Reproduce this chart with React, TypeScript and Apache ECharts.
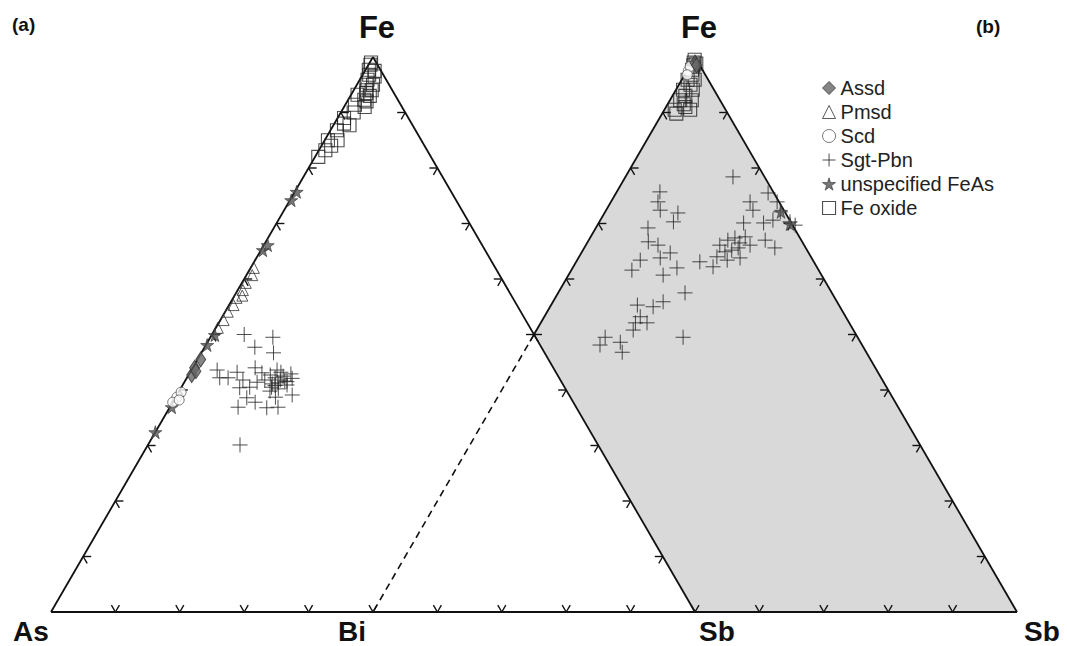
import React, { useEffect, useRef } from "react";
import * as echarts from "echarts";

// Ternary compositions, [Fe %, Sb %]; the remainder is As (diagram a) or Bi (diagram b)
const LEGEND_NAMES = ["Assd", "Pmsd", "Scd", "Sgt-Pbn", "unspecified FeAs", "Fe oxide"];

// Diagram (a): As - Fe - Sb
const A_ASSD: number[][] = [[42.7, 0.5], [44, 0.3], [45.5, 0.5], [43.4, 0.8]];
const A_PMSD: number[][] = [
  [51.2, 0.3], [52.6, 0.5], [54.1, 0.4], [55.3, 0.7], [56.6, 0.5],
  [58, 0.8], [59.3, 0.6], [60.7, 0.9], [62, 0.5], [57, 1.2],
];
const A_SCD: number[][] = [[38.7, 0.2], [37.8, 0], [39.6, 0.4], [38.2, 0.8]];
const A_SGT: number[][] = [
  [50, 5], [49.5, 9.7], [47.7, 7.8], [46.7, 11.2], [43.6, 4], [42.2, 5.1], [42.2, 6.4],
  [43.2, 7.3], [41.8, 8.9], [44, 9.7], [40.5, 10.6], [41.4, 11.3], [40.4, 9.1], [38.6, 11.1],
  [36.9, 10.6], [37.8, 12.8], [36.8, 15.1], [36.9, 16.8], [38.7, 15.5], [39.1, 17.9],
  [40.9, 16.2], [42.2, 13.7], [41.8, 14.7], [42.5, 14.8], [41.3, 14.6], [41.6, 15.5],
  [41.1, 13.8], [43.2, 14.1], [42.7, 12.7], [41.8, 12.3], [43.1, 11.2], [30.1, 14.3],
  [40.5, 14.0], [42.9, 15.8], [40.2, 15.2], [41.5, 15.9], [42.1, 16.4], [40.8, 14.4],
  [43.6, 13.3], [39.8, 14.1],
];
const A_FEAS: number[][] = [
  [32.4, 0], [36.9, 0.3], [48.1, 0.2], [49.9, 0.5], [65.2, 0.3], [66.1, 0.6], [74.2, 0.2], [75.7, 0.3],
];
const A_FEOX: number[][] = [
  [82, 0.5], [83.2, 1], [85, 0.5], [85, 2], [86.8, 1], [87.7, 2.5], [89, 1], [90, 2],
  [91.4, 1.5], [92.3, 2.5], [93.2, 1], [94, 2], [95, 1.5], [95.9, 1.2], [96.8, 1], [97.7, 0.5],
  [98.6, 0.3], [99, 0.2], [92, 3], [93, 3], [94, 2.8], [95, 2.5], [96.5, 2], [97.5, 1.5],
  [91, 3.2], [93.5, 2.2], [88, 1.5], [84, 1.5],
];

// Diagram (b): Bi - Fe - Sb
const B_ASSD: number[][] = [[99, 0.5], [98.5, 1]];
const B_PMSD: number[][] = [];
const B_SCD: number[][] = [[97.5, 0.2], [98.3, 0.1], [96.8, 0.4]];
const B_SGT: number[][] = [
  [78.4, 16.7], [75.7, 6.7], [73.9, 7.3], [72.4, 8.4], [71.9, 11.4], [70.3, 11.5], [69.2, 8.1],
  [66.7, 9.4], [66.1, 11.2], [64.7, 13.8], [63.8, 12.7], [63.4, 9.8], [61.6, 9.4], [60.7, 14.7],
  [62, 16.2], [73.9, 21.6], [72.4, 22.8], [75.5, 23.6], [73.9, 25.8], [72.1, 27.2], [70.3, 29.6],
  [69.7, 30.7], [70.1, 22.5], [70.1, 25.6], [70.6, 26.8], [66.1, 20.8], [67, 21.6], [67.4, 22.5],
  [66.5, 23.7], [67.6, 24], [66.1, 25.5], [65.2, 23.1], [64.9, 22.2], [64, 21.4], [65.6, 23.9],
  [63.1, 19.2], [62.2, 21.7], [63.4, 23.3], [63.8, 25.1], [67, 27.4], [65.6, 29.6], [57.5, 19.7],
  [55.9, 17.1], [55, 16], [55.3, 13.4], [53.2, 14.9], [52.1, 14.7], [52.1, 16.5], [50.8, 15],
  [49.5, 23.4], [49.5, 11.3], [48.1, 11.2], [48.6, 14.1], [46.8, 15.3],
];
const B_FEAS: number[][] = [[69.9, 29.8], [72.1, 27.3]];
const B_FEOX: number[][] = [
  [90.5, 1.6], [90.5, 4], [91.5, 2.5], [92.2, 1.6], [92.2, 3.4], [93, 2], [94.1, 1.1], [94.1, 2.6],
  [95, 1.8], [95.9, 0.9], [95.9, 2], [96.8, 1.2], [97.7, 0.7], [98.5, 0.5], [99, 0.3], [89.8, 2.2],
  [91, 3], [99.5, 0.2], [98.8, 0.8],
];

const H = Math.sqrt(3) / 2;
const toA = (p: number[]) => [p[1] / 100 + p[0] / 200, (p[0] / 100) * H];
const toB = (p: number[]) => [0.5 + p[1] / 100 + p[0] / 200, (p[0] / 100) * H];

const PLUS = "path://M5,0L5,10M0,5L10,5";
const STAR = "path://M50,0L61,35L98,35L68,57L79,91L50,70L21,91L32,57L2,35L39,35Z";

const STYLES: Record<string, any> = {
  Assd: { symbol: "diamond", symbolSize: [10, 15], itemStyle: { color: "#666", borderColor: "#333", borderWidth: 1 } },
  Pmsd: { symbol: "triangle", symbolSize: 11, itemStyle: { color: "rgba(255,255,255,0)", borderColor: "#333", borderWidth: 1 } },
  Scd: { symbol: "circle", symbolSize: 10, itemStyle: { color: "#fff", borderColor: "#555", borderWidth: 1 } },
  "Sgt-Pbn": { symbol: PLUS, symbolSize: 15, itemStyle: { color: "rgba(0,0,0,0)", borderColor: "#222", borderWidth: 1 } },
  "unspecified FeAs": { symbol: STAR, symbolSize: 13, itemStyle: { color: "#555", borderColor: "#333", borderWidth: 0.8 } },
  "Fe oxide": { symbol: "rect", symbolSize: 13, itemStyle: { color: "rgba(255,255,255,0)", borderColor: "#222", borderWidth: 1.1 } },
};

const SETS: [string, number[][], number[][]][] = [
  ["Fe oxide", A_FEOX, B_FEOX],
  ["Sgt-Pbn", A_SGT, B_SGT],
  ["Pmsd", A_PMSD, B_PMSD],
  ["unspecified FeAs", A_FEAS, B_FEAS],
  ["Scd", A_SCD, B_SCD],
  ["Assd", A_ASSD, B_ASSD],
];

const FONT = '"Liberation Sans", Arial, sans-serif';

function frame(params: any, api: any) {
  const c = (x: number, y: number) => api.coord([x, y]);
  const As = c(0, 0), FeA = c(0.5, H), SbA = c(1, 0), Bi = c(0.5, 0), FeB = c(1, H), SbB = c(1.5, 0), X = c(0.75, H / 2);
  const ch: any[] = [];
  ch.push({ type: "polygon", shape: { points: [FeB, SbB, SbA, X] }, style: { fill: "#d9d9d9" } });
  const ln = (p: number[], q: number[], w = 1.8, dash?: number[]) => ({
    type: "line",
    shape: { x1: p[0], y1: p[1], x2: q[0], y2: q[1] },
    style: { stroke: "#111", lineWidth: w, lineDash: dash },
  });
  ch.push(ln(As, SbB));
  ch.push(ln(As, FeA));
  ch.push(ln(FeA, SbA));
  ch.push(ln(FeB, SbB));
  ch.push(ln(FeB, X));
  ch.push(ln(X, Bi, 1.6, [7, 5]));
  const L = 8, dx = 4, dy = 6.9;
  const tick = (p: number[], a: number[], b: number[]) => {
    ch.push(ln(p, [p[0] + a[0], p[1] + a[1]], 1.4));
    ch.push(ln(p, [p[0] + b[0], p[1] + b[1]], 1.4));
  };
  for (let k = 1; k <= 14; k++) tick(c(0.1 * k, 0), [-dx, -dy], [dx, -dy]);
  for (let k = 1; k <= 9; k++) tick(c(0.05 * k, 0.1 * k * H), [L, 0], [dx, dy]);
  for (let k = 5; k <= 9; k++) tick(c(0.5 + 0.05 * k, 0.1 * k * H), [L, 0], [dx, dy]);
  for (let k = 1; k <= 9; k++) tick(c(0.5 + 0.05 * k, H * (1 - 0.1 * k)), [-L, 0], [-dx, dy]);
  for (let k = 1; k <= 9; k++) tick(c(1 + 0.05 * k, H * (1 - 0.1 * k)), [-L, 0], [-dx, dy]);
  const lab = (p: number[], t: string, ox: number, oy: number, size: number) =>
    ch.push({
      type: "text",
      x: p[0] + ox,
      y: p[1] + oy,
      style: {
        text: t, fontSize: size, fontWeight: "bold", fontFamily: FONT, fill: "#111",
        align: "center", verticalAlign: "middle", textAlign: "center", textVerticalAlign: "middle",
      },
    });
  lab(FeA, "Fe", 4, -30, 31);
  lab(FeB, "Fe", 4, -30, 31);
  lab(As, "As", -20, 19, 28);
  lab(Bi, "Bi", -21, 19, 28);
  lab(SbA, "Sb", 22, 19, 28);
  lab(SbB, "Sb", 25, 19, 28);
  return { type: "group", children: ch };
}

export default function App() {
  const ref = useRef<HTMLDivElement>(null);
  useEffect(() => {
    if (!ref.current) return;
    const chart = echarts.init(ref.current, undefined, { renderer: "svg" });
    const series: any[] = [
      {
        type: "custom",
        coordinateSystem: "cartesian2d",
        data: [[0, 0]],
        renderItem: frame,
        silent: true,
        clip: false,
        z: 1,
      },
    ];
    SETS.forEach(([name, a, b]) => {
      [a, b].forEach((arr, i) => {
        if (!arr.length) return;
        series.push({
          type: "scatter",
          name,
          data: arr.map(i === 0 ? toA : toB),
          ...STYLES[name],
          z: 2,
          silent: true,
          emphasis: { disabled: true },
        });
      });
    });
    chart.setOption({
      animation: false,
      backgroundColor: "#fff",
      grid: { left: 51, top: 57, width: 966, height: 555 },
      xAxis: { type: "value", min: 0, max: 1.5, show: false },
      yAxis: { type: "value", min: 0, max: H, show: false },
      legend: {
        orient: "vertical",
        left: 817,
        top: 73,
        itemGap: 4,
        itemWidth: 13,
        itemHeight: 13,
        selectedMode: false,
        textStyle: { fontSize: 20, color: "#222", fontFamily: FONT },
        data: LEGEND_NAMES.map((n) => ({
          name: n,
          icon: STYLES[n].symbol,
          itemStyle: { ...STYLES[n].itemStyle },
        })),
      },
      graphic: [
        { type: "text", left: 12, top: 15, style: { text: "(a)", font: 'bold 19px "Liberation Sans", Arial, sans-serif', fill: "#111" } },
        { type: "text", left: 976, top: 17, style: { text: "(b)", font: 'bold 19px "Liberation Sans", Arial, sans-serif', fill: "#111" } },
      ],
      series,
    });
    return () => chart.dispose();
  }, []);
  return (
    <div
      ref={ref}
      style={{ position: "fixed", left: 0, top: 0, width: 1067, height: 646, background: "#fff" }}
    />
  );
}
